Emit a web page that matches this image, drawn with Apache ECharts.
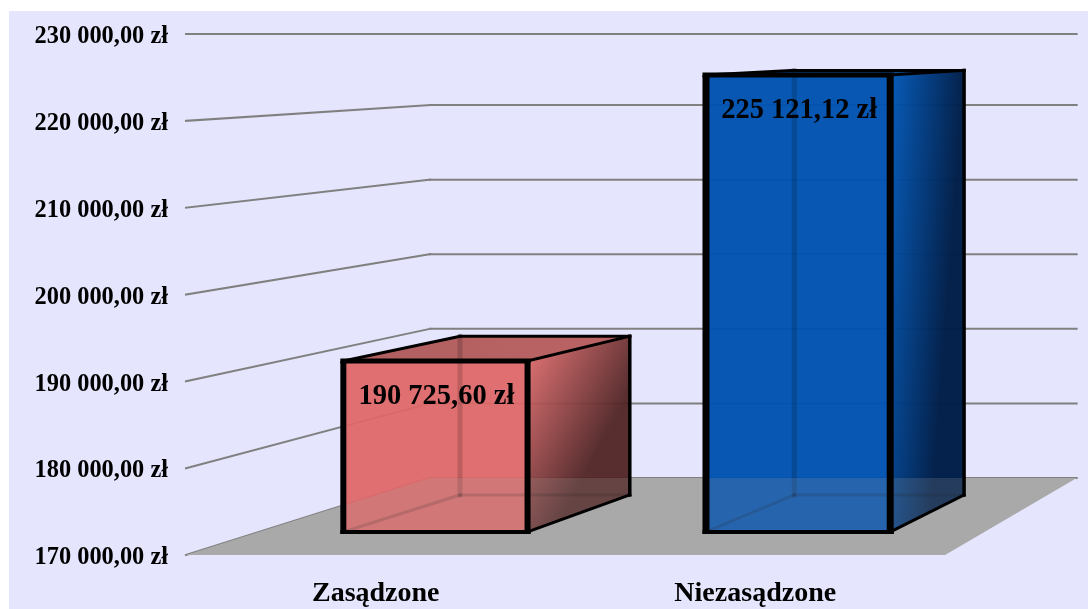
<!DOCTYPE html>
<html>
<head>
<meta charset="utf-8">
<script src="https://cdn.jsdelivr.net/npm/echarts@6/dist/echarts.min.js"></script>
<style>
  html, body { margin: 0; padding: 0; background: #fff; }
  #chart { position: absolute; left: 9px; top: 11px; width: 1079px; height: 598px; }
</style>
</head>
<body>
<div id="chart"></div>
<script>
  const categories = ['Zasądzone', 'Niezasądzone'];
  const values = [190725.6, 225121.12];
  const valueLabels = ['190 725,60 zł', '225 121,12 zł'];
  const wallTicks = [170000, 180000, 190000, 200000, 210000, 220000, 230000];

  const faceColors = [
    { front: 'rgba(224,102,102,0.93)', sideFrom: 'rgba(232,110,110,0.93)', sideTo: 'rgba(80,36,36,0.95)', sideTilt: 0.28, topFrom: 'rgba(172,88,88,0.95)', topTo: 'rgba(186,92,92,0.95)', edge: 6 },
    { front: 'rgba(0,82,176,0.97)', sideFrom: 'rgba(0,88,184,0.97)', sideTo: 'rgba(0,30,72,0.98)', sideTilt: 0.012, topFrom: 'rgba(0,70,150,0.95)', topTo: 'rgba(0,60,130,0.95)', edge: 7 },
  ];

  // perspective of the scene: depth 0 is the axis plane, depth 1 the back wall
  const GRID = { left: 177, top: 23, width: 759, height: 521 };
  const BACK = { dx: 244, dy: 77, scaleX: 0.852, scaleY: 0.859 };
  const BAR = { frontDepth: 0.3, backDepth: 0.78, backDepthX: 0.805, halfWidth: 0.127, shift: -0.007, topDrop: 1.5 };
  const valueMin = wallTicks[0];
  const valueMax = wallTicks[wallTicks.length - 1];

  const project = (api, u, v, depth, depthX = depth) => {
    const p = api.coord([u, v]);
    const backX = GRID.left + BACK.dx + (p[0] - GRID.left) * BACK.scaleX;
    const floorY = GRID.top + GRID.height;
    const backY = floorY - BACK.dy - (floorY - p[1]) * BACK.scaleY;
    return [p[0] + (backX - p[0]) * depthX, Math.max(p[1] + (backY - p[1]) * depth, GRID.top)];
  };

  const line = (a, b, stroke, lineWidth, lineCap = 'square') => ({
    type: 'line',
    shape: { x1: a[0], y1: a[1], x2: b[0], y2: b[1] },
    style: { stroke, lineWidth, lineCap },
  });

  const poly = (points, fill) => ({ type: 'polygon', shape: { points }, style: { fill } });

  const boxCorners = (api, i, v) => {
    const c = (i + 0.5) / categories.length + BAR.shift;
    const l = c - BAR.halfWidth;
    const r = c + BAR.halfWidth;
    const top = (u, depth, depthX) => {
      const p = project(api, u, v, depth, depthX);
      return [p[0], p[1] + BAR.topDrop];
    };
    return {
      fbl: project(api, l, valueMin, BAR.frontDepth),
      fbr: project(api, r, valueMin, BAR.frontDepth),
      ftl: top(l, BAR.frontDepth, BAR.frontDepth),
      ftr: top(r, BAR.frontDepth, BAR.frontDepth),
      bbl: project(api, l, valueMin, BAR.backDepth, BAR.backDepthX),
      bbr: project(api, r, valueMin, BAR.backDepth, BAR.backDepthX),
      btl: top(l, BAR.backDepth, BAR.backDepthX),
      btr: top(r, BAR.backDepth, BAR.backDepthX),
    };
  };

  const renderWall = (params, api) => {
    const v = api.value(1);
    const front = project(api, 0, v, 0);
    const corner = project(api, 0, v, 1);
    const end = project(api, 1, v, 1);
    return {
      type: 'group',
      children: [line(front, corner, '#808080', 2), line(corner, end, '#808080', 2)],
    };
  };

  const floorShape = (api, fill) =>
    poly(
      [
        project(api, 0, valueMin, 0),
        project(api, 0, valueMin, 1),
        project(api, 1, valueMin, 1),
        project(api, 1, valueMin, 0),
      ],
      fill
    );

  const renderFaces = (params, api) => {
    const i = api.value(0);
    const b = boxCorners(api, i, api.value(1));
    const col = faceColors[i];
    const inner = 'rgba(0,0,0,0.16)';
    return {
      type: 'group',
      children: [
        poly([b.ftl, b.ftr, b.btr, b.btl], { type: 'linear', x: 0, y: 0, x2: 1, y2: 0, colorStops: [{ offset: 0, color: col.topFrom }, { offset: 1, color: col.topTo }] }),
        poly([b.ftr, b.btr, b.bbr, b.fbr], { type: 'linear', x: 0, y: 0, x2: 1, y2: col.sideTilt, colorStops: [{ offset: 0, color: col.sideFrom }, { offset: 1, color: col.sideTo }] }),
        poly([b.ftl, b.ftr, b.fbr, b.fbl], col.front),
        line(b.btl, b.bbl, inner, 5),
        line(b.bbl, b.bbr, inner, 3),
        line(b.fbl, b.bbl, inner, 3),
      ],
    };
  };

  const renderEdges = (params, api) => {
    const i = api.value(0);
    const b = boxCorners(api, i, api.value(1));
    const k = '#000';
    const edge = faceColors[i].edge;
    return {
      type: 'group',
      children: [
        line(b.btl, b.btr, k, 3),
        line(b.btr, b.bbr, k, 3.5),
        line(b.bbr, b.fbr, k, 3),
        line(b.ftl, b.btl, k, 3),
        line(b.ftr, b.btr, k, 3),
        line([b.ftl[0] - edge / 2, b.ftl[1]], [b.ftr[0] + edge / 2, b.ftr[1]], k, 5, 'butt'),
        line([b.fbl[0] - edge / 2, b.fbl[1]], [b.fbr[0] + edge / 2, b.fbr[1]], k, 4, 'butt'),
        line(b.ftl, [b.fbl[0], b.fbl[1] + 2], k, edge, 'butt'),
        line(b.ftr, [b.fbr[0], b.fbr[1] + 2], k, edge, 'butt'),
        {
          type: 'text',
          style: {
            x: (b.ftl[0] + b.ftr[0]) / 2 + 1,
            y: b.ftl[1] + 36,
            text: valueLabels[i],
            fill: '#000',
            font: 'bold 28.5px "Liberation Serif"',
            textAlign: 'center',
            textVerticalAlign: 'middle',
          },
        },
      ],
    };
  };

  const sceneSeries = (renderItem, data, z) => ({
    type: 'custom',
    xAxisIndex: 1,
    yAxisIndex: 0,
    clip: false,
    silent: true,
    z,
    encode: { x: 0, y: 1 },
    data,
    renderItem,
  });

  const barData = values.map((v, i) => [i, v]);

  const option = {
    backgroundColor: '#E5E5FD',
    animation: false,
    grid: GRID,
    xAxis: [
      {
        type: 'category',
        data: categories,
        axisLine: { show: false },
        axisTick: { show: false },
        axisLabel: {
          margin: 25,
          color: '#000',
          fontFamily: 'Liberation Serif',
          fontWeight: 'bold',
          fontSize: 28,
        },
      },
      { type: 'value', min: 0, max: 1, show: false },
    ],
    yAxis: {
      type: 'value',
      min: valueMin,
      max: valueMax,
      interval: 10000,
      splitLine: { show: false },
      axisLine: { show: false },
      axisTick: { show: false },
      axisLabel: {
        margin: 18,
        color: '#000',
        fontFamily: 'Liberation Serif',
        fontWeight: 'bold',
        fontSize: 24.4,
        verticalAlign: 'top',
        lineHeight: 6,
        formatter: (v) => String(v / 1000) + ' 000,00 zł',
      },
    },
    series: [
      sceneSeries(renderWall, wallTicks.map((v, i) => [i, v]), 1),
      sceneSeries((params, api) => floorShape(api, '#A9A9A9'), [[0, valueMin]], 2),
      sceneSeries(renderFaces, barData, 3),
      sceneSeries((params, api) => floorShape(api, 'rgba(169,169,169,0.2)'), [[0, valueMin]], 4),
      sceneSeries(renderEdges, barData, 5),
    ],
  };

  const chart = echarts.init(document.getElementById('chart'));
  chart.setOption(option);
</script>
</body>
</html>
